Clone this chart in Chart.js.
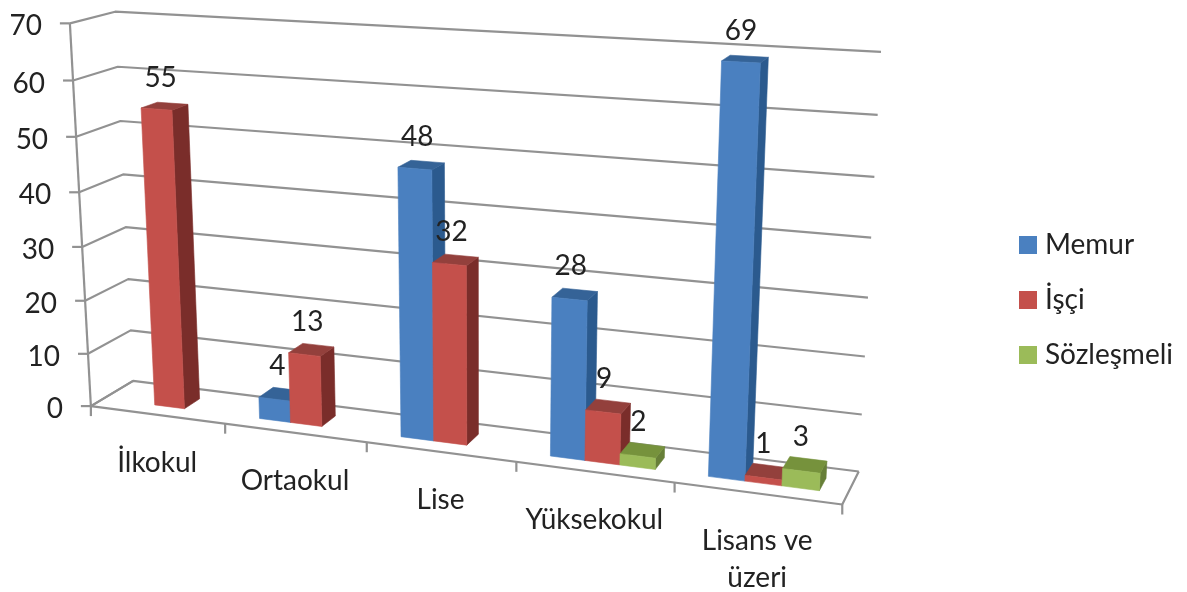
<!DOCTYPE html>
<html><head><meta charset="utf-8">
<style>html,body{margin:0;padding:0;background:#fff}canvas{display:block;filter:blur(0.4px)}</style>
<script src="https://cdn.jsdelivr.net/npm/chart.js@4"></script>
</head><body><canvas id="c" width="1187" height="592"></canvas>
<script>
const categories = ['İlkokul','Ortaokul','Lise','Yüksekokul',['Lisans ve','üzeri']];
const memur = [null,4,48,28,69];
const isci = [55,13,32,9,1];
const sozlesmeli = [null,null,null,2,3];
const seriesNames = ['Memur','İşçi','Sözleşmeli'];
const FONT = 'Lato, Carlito, "Open Sans", sans-serif';
const INK = '#222222';
const shades = {
  Memur:{front:'#4A80C0',side:'#2B5A8E',top:'#356397'},
  'İşçi':{front:'#C4504B',side:'#7A2D2A',top:'#93403C'},
  'Sözleşmeli':{front:'#9BBB59',side:'#677F38',top:'#76923C'}
};
// camera: where the corners of the unit box (u, v, depth) land on the page
const frame = [
 [0,0,0,91,406],[0,1,0,70,23],[0,0,1,133,381],[0,1,1,115,12],
 [1,0,0,842,505],[1,0,1,859,471],[1,1,1,881,52]
];
function solveCamera(pts){
  const A=[],b=[];
  pts.forEach(([X,Y,Z,x,y])=>{
    A.push([X,Y,Z,1,0,0,0,0,-x*X,-x*Y,-x*Z]);b.push(x);
    A.push([0,0,0,0,X,Y,Z,1,-y*X,-y*Y,-y*Z]);b.push(y);
  });
  const n=11,M=[];
  for(let i=0;i<n;i++){M.push(new Array(n+1).fill(0));
    for(let j=0;j<n;j++)for(let k=0;k<A.length;k++)M[i][j]+=A[k][i]*A[k][j];
    for(let k=0;k<A.length;k++)M[i][n]+=A[k][i]*b[k];
    M[i][i]+=1e-9;}
  for(let i=0;i<n;i++){let p=i;for(let r=i+1;r<n;r++)if(Math.abs(M[r][i])>Math.abs(M[p][i]))p=r;
    [M[i],M[p]]=[M[p],M[i]];
    for(let r=0;r<n;r++){if(r===i)continue;const f=M[r][i]/M[i][i];for(let c=i;c<=n;c++)M[r][c]-=f*M[i][c];}}
  return M.map((r,i)=>r[n]/r[i]);
}
const P=solveCamera(frame);
function proj(u,v,z){
  const w=P[8]*u+P[9]*v+P[10]*z+1;
  return [(P[0]*u+P[1]*v+P[2]*z+P[3])/w,(P[4]*u+P[5]*v+P[6]*z+P[7])/w];
}
const Z0=0.30,Z1=0.68;
function poly(ctx,pts,fill){
  ctx.beginPath();pts.forEach((p,i)=>i?ctx.lineTo(p[0],p[1]):ctx.moveTo(p[0],p[1]));ctx.closePath();
  ctx.fillStyle=fill;ctx.fill();ctx.strokeStyle=fill;ctx.lineWidth=0.6;ctx.stroke();
}
function line(ctx,pts){
  ctx.beginPath();pts.forEach((p,i)=>i?ctx.lineTo(p[0],p[1]):ctx.moveTo(p[0],p[1]));ctx.stroke();
}
function swatch(color){
  const s=document.createElement('canvas');s.width=18;s.height=18;
  const g=s.getContext('2d');g.fillStyle=color;g.fillRect(0,0,18,18);
  return s;
}
const perspective={
  id:'perspective',
  beforeDatasetsDraw(chart){
    const ctx=chart.ctx,a=chart.chartArea,xs=chart.scales.x,ys=chart.scales.y;
    const U=x=>(x-a.left)/(a.right-a.left), V=y=>(a.bottom-y)/(a.bottom-a.top);
    ctx.save();
    ctx.strokeStyle='#929292';ctx.lineWidth=2.2;ctx.lineJoin='round';
    // walls
    ys.ticks.forEach(t=>{
      const v=V(ys.getPixelForValue(t.value));
      line(ctx,[proj(0,v,0),proj(0,v,1),proj(1,v,1)]);
      const f=proj(0,v,0);
      line(ctx,[[f[0]-10,f[1]],f]);
    });
    line(ctx,[proj(0,0,0),proj(0,1,0)]);
    line(ctx,[proj(0,0,1),proj(0,0,0),proj(1,0,0),proj(1,0,1)]);
    for(let i=0;i<=categories.length;i++){
      const p=proj(i/categories.length,0,0);
      line(ctx,[p,[p[0],p[1]+10]]);
    }
    // tick labels
    ctx.fillStyle=INK;
    ctx.font='28px '+FONT;ctx.textAlign='right';ctx.textBaseline='middle';
    ys.ticks.forEach(t=>{
      const f=proj(0,V(ys.getPixelForValue(t.value)),0);
      ctx.fillText(t.label,f[0]-28,f[1]+3);
    });
    ctx.textAlign='center';
    categories.forEach((c,i)=>{
      const f=proj(U(xs.getPixelForValue(i)),0,0);
      [].concat(c).forEach((s,k)=>ctx.fillText(s,f[0],f[1]+48+k*37));
    });
    // bars, left to right
    const labels=[];
    categories.forEach((c,i)=>{
      chart.data.datasets.forEach((ds,d)=>{
        const val=ds.data[i];
        if(val===null)return;
        const el=chart.getDatasetMeta(d).data[i];
        const col=shades[ds.label];
        const l=U(el.x-el.width/2),r=U(el.x+el.width/2),t=V(el.y),b=V(el.base);
        poly(ctx,[proj(r,b,Z0),proj(r,b,Z1),proj(r,t,Z1),proj(r,t,Z0)],col.side);
        poly(ctx,[proj(l,t,Z0),proj(r,t,Z0),proj(r,t,Z1),proj(l,t,Z1)],col.top);
        poly(ctx,[proj(l,b,Z0),proj(r,b,Z0),proj(r,t,Z0),proj(l,t,Z0)],col.front);
        labels.push([String(val),proj((l+r)/2,t,(Z0+Z1)/2)]);
      });
    });
    ctx.fillStyle=INK;
    labels.forEach(([s,p])=>ctx.fillText(s,p[0]-4,p[1]-28));
    ctx.restore();
    return false;
  }
};
new Chart(document.getElementById('c'),{
  type:'bar',
  data:{labels:categories,datasets:[
    {label:seriesNames[0],data:memur,backgroundColor:shades.Memur.front},
    {label:seriesNames[1],data:isci,backgroundColor:shades['İşçi'].front},
    {label:seriesNames[2],data:sozlesmeli,backgroundColor:shades['Sözleşmeli'].front}
  ]},
  options:{
    responsive:false,animation:false,
    layout:{padding:{top:8,right:4,bottom:0,left:0}},
    datasets:{bar:{categoryPercentage:0.67,barPercentage:1}},
    scales:{
      x:{display:false},
      y:{display:false,min:0,max:70,ticks:{stepSize:10}}
    },
    plugins:{
      tooltip:{enabled:false},
      title:{display:false},
      legend:{position:'right',
        labels:{usePointStyle:true,pointStyleWidth:6,boxWidth:6,boxHeight:18,padding:27,color:INK,font:{family:FONT,size:28},
          generateLabels(chart){
            return chart.data.datasets.map((ds,i)=>({
              text:ds.label,datasetIndex:i,fillStyle:ds.backgroundColor,strokeStyle:ds.backgroundColor,
              lineWidth:0,pointStyle:swatch(ds.backgroundColor),fontColor:INK
            }));
          }}}
    }
  },
  plugins:[perspective]
});
</script></body></html>
